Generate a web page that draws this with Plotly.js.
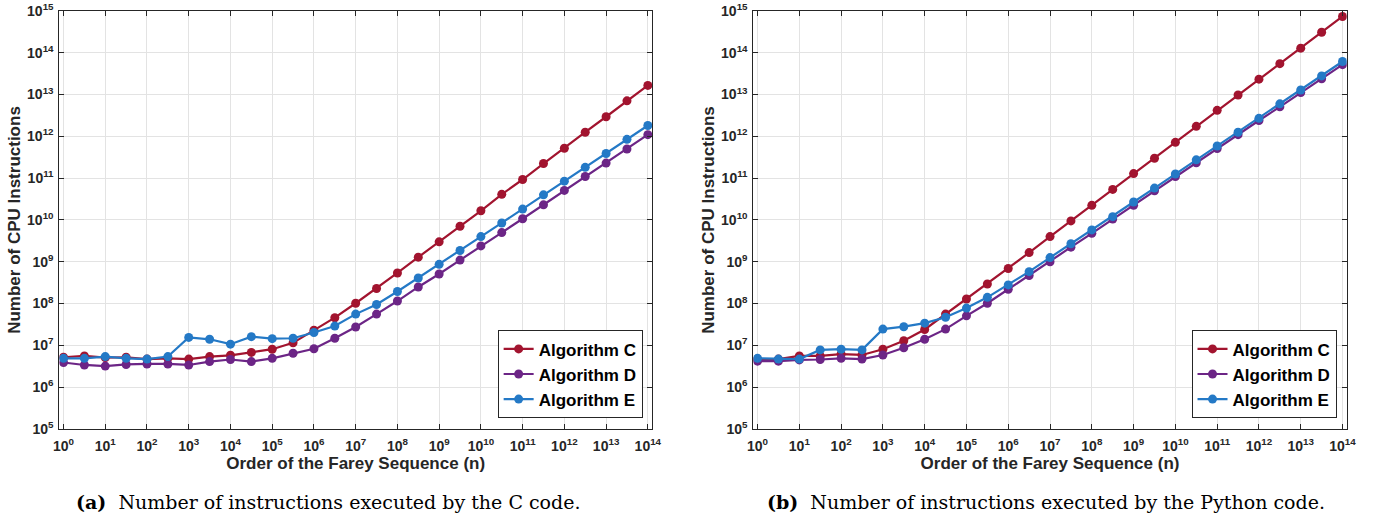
<!DOCTYPE html>
<html>
<head>
<meta charset="utf-8">
<script src="https://cdn.plot.ly/plotly-3.0.1.min.js"></script>
<style>html,body{margin:0;padding:0;background:#fff;}#chart{width:1377px;height:521px;}</style>
</head>
<body>
<div id="chart"></div>
<script>
// Order of the Farey sequence (half-decade steps)
const orderN = [1, 3.162, 10, 31.62, 100, 316.2, 1e3, 3162, 1e4, 3.162e4, 1e5, 3.162e5, 1e6, 3.162e6, 1e7, 3.162e7, 1e8, 3.162e8, 1e9, 3.162e9, 1e10, 3.162e10, 1e11, 3.162e11, 1e12, 3.162e12, 1e13, 3.162e13, 1e14];

// (a) C code
const cCodeAlgC = [5.2e6, 5.6e6, 5.1e6, 5.2e6, 4.7e6, 4.9e6, 4.7e6, 5.4e6, 5.8e6, 6.8e6, 8.1e6, 1.15e7, 2.3e7, 4.6e7, 1.02e8, 2.3e8, 5.4e8, 1.29e9, 3.0e9, 7.1e9, 1.66e10, 4.1e10, 9.3e10, 2.24e11, 5.2e11, 1.26e12, 2.95e12, 7.1e12, 1.66e13];
const cCodeAlgD = [3.9e6, 3.4e6, 3.2e6, 3.5e6, 3.6e6, 3.6e6, 3.4e6, 4.1e6, 4.6e6, 4.1e6, 4.9e6, 6.5e6, 8.3e6, 1.48e7, 2.75e7, 5.6e7, 1.15e8, 2.5e8, 5.1e8, 1.1e9, 2.4e9, 5.0e9, 1.07e10, 2.3e10, 5.1e10, 1.1e11, 2.3e11, 5.0e11, 1.1e12];
const cCodeAlgE = [4.9e6, 4.9e6, 5.4e6, 4.9e6, 4.7e6, 5.4e6, 1.55e7, 1.4e7, 1.07e7, 1.62e7, 1.45e7, 1.48e7, 2.04e7, 2.9e7, 5.6e7, 9.5e7, 1.95e8, 4.1e8, 8.7e8, 1.86e9, 4.0e9, 8.5e9, 1.82e10, 4.0e10, 8.5e10, 1.82e11, 3.9e11, 8.5e11, 1.82e12];

// (b) Python code
const pyCodeAlgC = [4.7e6, 4.7e6, 5.6e6, 5.6e6, 6.2e6, 5.9e6, 8.1e6, 1.29e7, 2.4e7, 5.6e7, 1.29e8, 2.95e8, 6.9e8, 1.66e9, 4.0e9, 9.5e9, 2.24e10, 5.4e10, 1.29e11, 3.0e11, 7.2e11, 1.74e12, 4.2e12, 9.8e12, 2.34e13, 5.5e13, 1.29e14, 3.1e14, 7.4e14];
const pyCodeAlgD = [4.2e6, 4.2e6, 4.5e6, 4.6e6, 4.9e6, 4.7e6, 5.9e6, 8.8e6, 1.4e7, 2.45e7, 5.1e7, 1.02e8, 2.2e8, 4.7e8, 1.0e9, 2.24e9, 4.8e9, 1.05e10, 2.24e10, 5.0e10, 1.1e11, 2.34e11, 5.1e11, 1.1e12, 2.4e12, 5.1e12, 1.12e13, 2.4e13, 5.2e13];
const pyCodeAlgE = [4.9e6, 4.7e6, 4.7e6, 7.8e6, 8.1e6, 7.8e6, 2.45e7, 2.8e7, 3.4e7, 4.7e7, 7.8e7, 1.41e8, 2.8e8, 5.8e8, 1.26e9, 2.7e9, 5.8e9, 1.2e10, 2.7e10, 5.8e10, 1.26e11, 2.75e11, 5.9e11, 1.26e12, 2.7e12, 6.0e12, 1.29e13, 2.8e13, 6.2e13];

const seriesNames = ["Algorithm C", "Algorithm D", "Algorithm E"];

// Tick values and labels
const xTickVals = [1, 10, 100, 1e3, 1e4, 1e5, 1e6, 1e7, 1e8, 1e9, 1e10, 1e11, 1e12, 1e13, 1e14];
const xTickText = ["10<sup>0</sup>", "10<sup>1</sup>", "10<sup>2</sup>", "10<sup>3</sup>", "10<sup>4</sup>", "10<sup>5</sup>", "10<sup>6</sup>", "10<sup>7</sup>", "10<sup>8</sup>", "10<sup>9</sup>", "10<sup>10</sup>", "10<sup>11</sup>", "10<sup>12</sup>", "10<sup>13</sup>", "10<sup>14</sup>"];
const yTickVals = [1e5, 1e6, 1e7, 1e8, 1e9, 1e10, 1e11, 1e12, 1e13, 1e14, 1e15];
const yTickText = ["10<sup>5</sup>", "10<sup>6</sup>", "10<sup>7</sup>", "10<sup>8</sup>", "10<sup>9</sup>", "10<sup>10</sup>", "10<sup>11</sup>", "10<sup>12</sup>", "10<sup>13</sup>", "10<sup>14</sup>", "10<sup>15</sup>"];

const xTitle = "Order of the Farey Sequence (n)";
const yTitle = "Number of CPU Instructions";
const captionA = "<b>(a)</b>  Number of instructions executed by the C code.";
const captionB = "<b>(b)</b>  Number of instructions executed by the Python code.";

const colors = ["#A2142F", "#6C2586", "#2479C6"];
const FONT = "Liberation Sans, Arial, Helvetica, sans-serif";
const TXT = "#262626";

function mk(y, i, xa, ya, leg) {
  return {
    x: orderN, y: y, name: seriesNames[i], type: "scatter", mode: "lines+markers",
    xaxis: xa, yaxis: ya, legend: leg,
    line: {color: colors[i], width: 2.2},
    marker: {color: colors[i], size: 9, symbol: "circle"}
  };
}

const traces = [
  mk(cCodeAlgC, 0, "x", "y", "legend"),
  mk(cCodeAlgD, 1, "x", "y", "legend"),
  mk(cCodeAlgE, 2, "x", "y", "legend"),
  mk(pyCodeAlgC, 0, "x2", "y2", "legend2"),
  mk(pyCodeAlgD, 1, "x2", "y2", "legend2"),
  mk(pyCodeAlgE, 2, "x2", "y2", "legend2")
];

function xAx(dom, anchor) {
  return {
    type: "log", domain: dom, anchor: anchor, range: [-0.1, 14.1],
    tickvals: xTickVals, ticktext: xTickText,
    ticks: "inside", ticklen: 5, tickwidth: 1, tickcolor: TXT,
    ticklabelstandoff: 4,
    showline: true, linecolor: TXT, linewidth: 1, mirror: "ticks",
    showgrid: true, gridcolor: "#e3e3e3", gridwidth: 1, zeroline: false,
    tickfont: {family: FONT, size: 14, color: TXT, weight: "bold"},
    title: {text: xTitle, font: {family: FONT, size: 17, color: TXT, weight: "bold"}, standoff: 4},
    automargin: false
  };
}
function yAx(anchor) {
  return {
    type: "log", domain: [0.1766, 0.9789], anchor: anchor, range: [5, 15],
    tickvals: yTickVals, ticktext: yTickText,
    ticks: "inside", ticklen: 5, tickwidth: 1, tickcolor: TXT,
    ticklabelstandoff: 2,
    showline: true, linecolor: TXT, linewidth: 1, mirror: "ticks",
    showgrid: true, gridcolor: "#e3e3e3", gridwidth: 1, zeroline: false,
    tickfont: {family: FONT, size: 14, color: TXT, weight: "bold"},
    title: {text: yTitle, font: {family: FONT, size: 17, color: TXT, weight: "bold"}, standoff: 2},
    automargin: false
  };
}

function legendAt(xr) {
  return {
    x: xr, y: 0.197, xanchor: "right", yanchor: "bottom",
    bgcolor: "#ffffff", bordercolor: TXT, borderwidth: 1,
    font: {family: FONT, size: 17, color: "#000", weight: "bold"},
    tracegroupgap: 0, itemwidth: 30
  };
}

const capFont = {family: "DejaVu Serif, Liberation Serif, serif", size: 19, color: "#000"};

const layout = {
  width: 1377, height: 521,
  margin: {l: 0, r: 0, t: 0, b: 0},
  paper_bgcolor: "#ffffff", plot_bgcolor: "#ffffff",
  showlegend: true,
  xaxis: xAx([0.0431, 0.4735], "y"),
  yaxis: yAx("x"),
  xaxis2: xAx([0.5471, 0.9780], "y2"),
  yaxis2: yAx("x2"),
  legend: legendAt(0.4667),
  legend2: legendAt(0.9706),
  annotations: [
    {text: captionA, xref: "paper", yref: "paper", x: 0.2385, y: 0.036, xanchor: "center", yanchor: "middle", showarrow: false, font: capFont},
    {text: captionB, xref: "paper", yref: "paper", x: 0.7595, y: 0.036, xanchor: "center", yanchor: "middle", showarrow: false, font: capFont}
  ]
};

Plotly.newPlot("chart", traces, layout, {displayModeBar: false, staticPlot: true});
</script>
</body>
</html>
